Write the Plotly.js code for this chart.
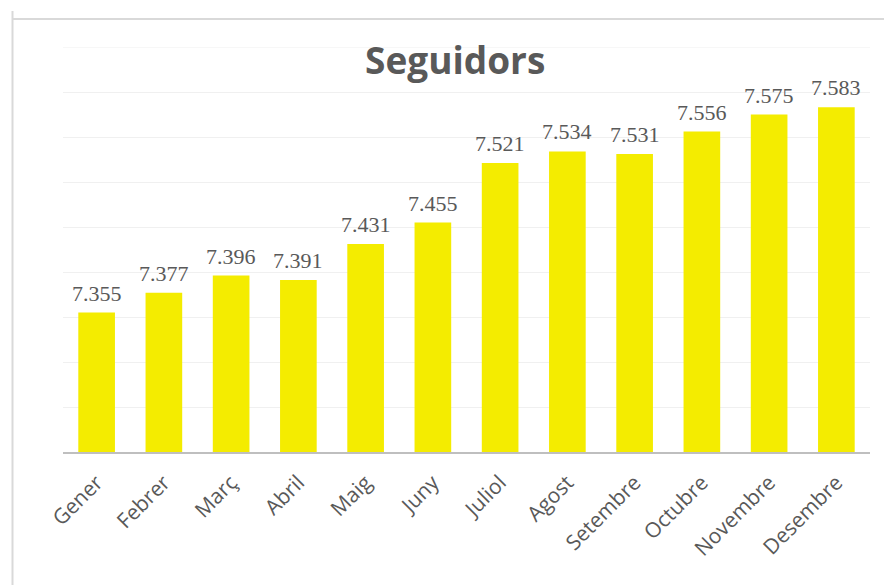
<!DOCTYPE html>
<html>
<head>
<meta charset="utf-8">
<script src="https://cdn.plot.ly/plotly-3.0.1.min.js"></script>
<style>html,body{margin:0;padding:0;background:#fff;}#chart{width:884px;height:585px;}</style>
</head>
<body>
<div id="chart"></div>
<script>
const months = ["Gener","Febrer","Març","Abril","Maig","Juny","Juliol","Agost","Setembre","Octubre","Novembre","Desembre"];
const followers = [7355,7377,7396,7391,7431,7455,7521,7534,7531,7556,7575,7583];
const chartTitle = "Seguidors";
const axisMin = 7200, axisMax = 7650;

const trace = {
  type: "bar",
  x: months,
  y: followers,
  marker: {color: "#F4EC00"},
  hoverinfo: "x+y"
};

const annotations = months.map((m, i) => ({
  x: m, y: followers[i], xref: "x", yref: "y",
  text: followers[i].toLocaleString("de-DE"),
  showarrow: false, yanchor: "bottom", yshift: 5,
  font: {family: "Liberation Serif, serif", size: 22, color: "#595959"}
}));

const layout = {
  width: 884, height: 585,
  margin: {l: 63, r: 14, t: 47, b: 133},
  paper_bgcolor: "#fff", plot_bgcolor: "#fff",
  separators: ",.",
  showlegend: false,
  bargap: 0.455,
  title: {
    text: "<b>" + chartTitle + "</b>",
    font: {family: "Open Sans, sans-serif", size: 37, color: "#595959"},
    xref: "paper", x: 0.486, xanchor: "center",
    yref: "container", y: 0.896, yanchor: "middle"
  },
  xaxis: {
    type: "category",
    tickangle: -45,
    tickfont: {family: "Open Sans, sans-serif", size: 21, color: "#595959"},
    ticklabelstandoff: 8,
    showline: true, linecolor: "#BFBFBF", linewidth: 2,
    ticks: "", showgrid: false, fixedrange: true
  },
  yaxis: {
    range: [axisMin, axisMax],
    dtick: 50, tick0: axisMin,
    showticklabels: false,
    showgrid: true, gridcolor: "#F0F0F0", gridwidth: 1,
    zeroline: false, showline: false, ticks: "", fixedrange: true
  },
  annotations: annotations,
  shapes: [
    {type: "line", xref: "paper", yref: "y", layer: "below",
     x0: 0, x1: 1, y0: axisMax, y1: axisMax,
     line: {color: "#F0F0F0", width: 1}},
    {type: "line", xref: "paper", yref: "paper",
     x0: (12.5 - 63) / 807, x1: (12.5 - 63) / 807, y0: (452 - 11) / 405, y1: (452 - 590) / 405,
     line: {color: "#D9D9D9", width: 2}},
    {type: "line", xref: "paper", yref: "paper",
     x0: (12 - 63) / 807, x1: (890 - 63) / 807, y0: (452 - 19) / 405, y1: (452 - 19) / 405,
     line: {color: "#D9D9D9", width: 2}}
  ]
};

Plotly.newPlot("chart", [trace], layout, {displayModeBar: false, staticPlot: true});
</script>
</body>
</html>
